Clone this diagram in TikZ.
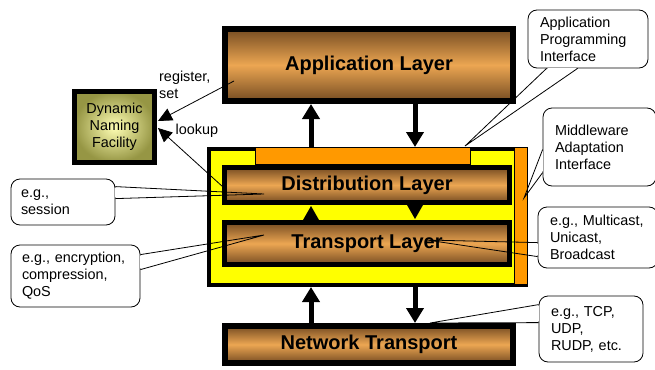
\documentclass[tikz,border=0pt]{standalone}
\usepackage{fontspec}
\setmainfont{Liberation Sans}
\usetikzlibrary{arrows.meta,calc}
\definecolor{brdark}{RGB}{118,76,34}
\definecolor{brlight}{RGB}{236,166,82}
\definecolor{mworange}{RGB}{255,153,0}
\definecolor{mwyellow}{RGB}{255,255,0}
\definecolor{dnfin}{RGB}{255,255,180}
\definecolor{dnfout}{RGB}{150,150,68}
\begin{document}
\begin{tikzpicture}[x=1pt,y=-1pt,
  layer/.style={draw=black, top color=brdark, bottom color=brdark, middle color=brlight,
    inner sep=0pt, font=\fontsize{20}{23}\selectfont\bfseries},
  bar/.style={draw=black, fill=mworange, line width=0.8pt, inner sep=0pt},
  callout/.style={draw=black, fill=white, rounded corners=9pt, line width=0.8pt,
    align=left, inner xsep=12pt, inner ysep=0pt, font=\fontsize{14.4}{17}\selectfont},
  bigarrow/.style={line width=5pt, -{Triangle[length=15pt,width=17pt]}},
  thinarrow/.style={line width=0.8pt, -{Triangle[length=14pt,width=13pt]}},
  tail/.style={line width=0.8pt, line join=miter},
  gap/.style={white, line width=1.6pt},
  lbl/.style={font=\fontsize{14.4}{17}\selectfont, align=left, inner sep=0pt}]

\useasboundingbox (0,0) rectangle (655,369);

% middleware container
\node[draw=black, fill=mwyellow, line width=4pt, minimum width=317pt, minimum height=136pt, inner sep=0pt] (mw) at (367.5,217) {};
\node[bar, minimum width=215.2pt, minimum height=17.2pt] (apibar) at (363,156) {};
\node[bar, minimum width=13.2pt, minimum height=137.2pt] (maibar) at (521,216) {};

% layers
\node[layer, line width=6pt, minimum width=288pt, minimum height=72pt] (app) at (369,65) {Application Layer};
\node[layer, line width=5pt, minimum width=285pt, minimum height=35pt] (dist) at (367,185) {Distribution Layer};
\node[layer, line width=5pt, minimum width=285pt, minimum height=42pt] (trans) at (367,243.5) {Transport Layer};
\node[layer, line width=6pt, minimum width=288pt, minimum height=37pt] (net) at (369,344.5) {Network Transport};

% naming facility
\node[draw=black, line width=5pt, inner color=dnfin, outer color=dnfout, minimum width=80pt, minimum height=71pt,
  align=center, inner sep=0pt, font=\fontsize{14.4}{17}\selectfont] (dnf) at (114.5,127) {Dynamic\\Naming\\Facility};

% vertical thick arrows
\coordinate (upx) at (311,0);
\coordinate (dnx) at (415,0);
\draw[bigarrow] (upx |- mw.north) -- (upx |- app.south);
\draw[bigarrow] (dnx |- app.south) -- (dnx |- mw.north);
\fill ($(upx |- trans.north)+(-8,0)$) -- ($(upx |- dist.south)+(0,1)$) -- ($(upx |- trans.north)+(8,0)$) -- cycle;
\fill ($(dnx |- dist.south)+(-8,0)$) -- ($(dnx |- trans.north)+(0,-1)$) -- ($(dnx |- dist.south)+(8,0)$) -- cycle;
\draw[bigarrow] (upx |- net.north) -- (upx |- mw.south);
\draw[bigarrow] (dnx |- mw.south) -- (dnx |- net.north);

% naming arrows
\coordinate (regstart) at (234,81);
\coordinate (lookstart) at (223,187);
\draw[thinarrow] (regstart) -- ($(dnf.east)+(1,-6)$);
\draw[thinarrow] (lookstart) -- ($(dnf.east)+(1,1)$);
\node[lbl, anchor=west] (reg) at (159,84.5) {register,\\set};
\node[lbl, anchor=west] (look) at (175.5,131) {lookup};

% callouts
\node[callout, text width=96pt, minimum height=58pt] (api) at (588,39) {Application\\Programming\\Interface};
\node[callout, text width=89pt, minimum height=78pt] (maif) at (599.5,147) {Middleware\\Adaptation\\Interface};
\node[callout, inner xsep=10pt, text width=84pt, minimum height=46pt] (sess) at (63,202) {e.g.,\\session};
\node[callout, inner xsep=11pt, text width=107pt, minimum height=62pt] (enc) at (75.5,276) {e.g., encryption,\\compression,\\QoS};
\node[callout, text width=96pt, minimum height=61pt] (mcast) at (598,237.5) {e.g., Multicast,\\Unicast,\\Broadcast};
\node[callout, text width=80pt, minimum height=66pt] (tcp) at (591,329) {e.g., TCP,\\UDP,\\RUDP, etc.};

% callout tails
\coordinate (apiA) at ($(api.south west)+(19,0)$);
\coordinate (apiB) at ($(api.south west)+(50,0)$);
\coordinate (apiT) at ($(apibar.north east)+(-6,-1)$);
\draw[gap] ($(apiA)!1.2pt!(apiB)$) -- ($(apiB)!1.2pt!(apiA)$);
\draw[tail] (apiA) -- (apiT) -- (apiB);

\coordinate (maifA) at ($(maif.north west)+(0,42)$);
\coordinate (maifB) at ($(maif.north west)+(0,65)$);
\coordinate (maifT) at (524,198);
\draw[gap] ($(maifA)!1.2pt!(maifB)$) -- ($(maifB)!1.2pt!(maifA)$);
\draw[tail] (maifA) -- (maifT) -- (maifB);

\coordinate (sessA) at ($(sess.north east)+(0,8)$);
\coordinate (sessB) at ($(sess.north east)+(0,20)$);
\coordinate (sessT) at (264,194);
\draw[gap] ($(sessA)!1.2pt!(sessB)$) -- ($(sessB)!1.2pt!(sessA)$);
\draw[tail] (sessA) -- (sessT) -- (sessB);

\coordinate (encA) at ($(enc.north east)+(0,10)$);
\coordinate (encB) at ($(enc.north east)+(0,25)$);
\coordinate (encT) at (264,235);
\draw[gap] ($(encA)!1.2pt!(encB)$) -- ($(encB)!1.2pt!(encA)$);
\draw[tail] (encA) -- (encT) -- (encB);

\coordinate (mcastA) at ($(mcast.north west)+(0,36)$);
\coordinate (mcastB) at ($(mcast.north west)+(0,50)$);
\coordinate (mcastT) at (427,240);
\draw[gap] ($(mcastA)!1.2pt!(mcastB)$) -- ($(mcastB)!1.2pt!(mcastA)$);
\draw[tail] (mcastA) -- (mcastT) -- (mcastB);

\coordinate (tcpA) at ($(tcp.north west)+(0,9)$);
\coordinate (tcpB) at ($(tcp.north west)+(0,27)$);
\coordinate (tcpT) at (430,323);
\draw[gap] ($(tcpA)!1.2pt!(tcpB)$) -- ($(tcpB)!1.2pt!(tcpA)$);
\draw[tail] (tcpA) -- (tcpT) -- (tcpB);
\end{tikzpicture}
\end{document}
